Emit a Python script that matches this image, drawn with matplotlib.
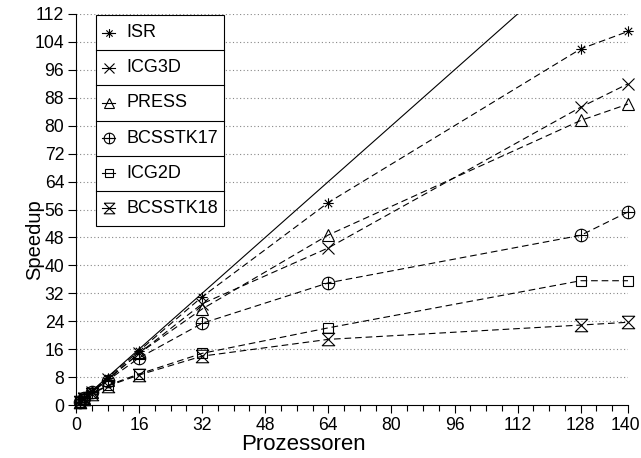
import matplotlib
matplotlib.use("Agg")
import matplotlib.pyplot as plt
import numpy as np
from matplotlib.path import Path
from matplotlib.patches import Rectangle
from matplotlib.lines import Line2D
from matplotlib.transforms import ScaledTranslation

plt.rcParams['font.family'] = ['Liberation Sans', 'DejaVu Sans']

procs = [1, 2, 4, 8, 16, 32, 64, 128, 140]
isr = [1, 2, 3.9, 7.8, 15.5, 31.0, 58.0, 102.0, 107.0]
icg3d = [1, 1.9, 3.8, 7.4, 14.8, 29.0, 45.0, 85.3, 92.0]
press = [1, 1.9, 3.7, 7.2, 14.8, 27.5, 48.7, 81.5, 86.2]
bcsstk17 = [1, 1.9, 3.7, 7.0, 13.5, 23.4, 35.0, 48.6, 55.3]
icg2d = [1, 1.8, 3.3, 5.6, 8.9, 14.8, 22.1, 35.6, 35.6]
bcsstk18 = [1, 1.8, 3.2, 5.4, 8.6, 14.0, 18.8, 22.9, 23.7]
labels = ["ISR", "ICG3D", "PRESS", "BCSSTK17", "ICG2D", "BCSSTK18"]
series = [isr, icg3d, press, bcsstk17, icg2d, bcsstk18]
ideal_x = [0, 140]
xticks = [0, 16, 32, 48, 64, 80, 96, 112, 128, 140]
yticks = list(range(0, 113, 8))

# custom markers
s = np.sqrt(0.5)
star_path = Path([(-1, 0), (1, 0), (0, -1), (0, 1), (-s, -s), (s, s), (-s, s), (s, -s)],
                 [Path.MOVETO, Path.LINETO] * 4)
circ = Path.unit_circle()
plus = Path([(-1, 0), (1, 0), (0, -1), (0, 1)], [Path.MOVETO, Path.LINETO] * 2)
oplus_path = Path.make_compound_path(circ, plus)
hour_path = Path([(-1, 1), (1, 1), (-1, -1), (1, -1), (-1, 1)],
                 [Path.MOVETO, Path.LINETO, Path.LINETO, Path.LINETO, Path.LINETO])
markers = [star_path, 'x', '^', oplus_path, 's', hour_path]
msizes = [7.5, 9, 9, 9, 6.5, 9]

fig = plt.figure(figsize=(6.41, 4.58), dpi=100)
ax = fig.add_axes([76/641, 1-405/458, (628-76)/641, (405-14)/458])
ax.set_xlim(0, 140)
ax.set_ylim(0, 112)

for y in yticks[1:]:
    ax.axhline(y, color='#888888', lw=0.8, ls=(0, (1, 2.2)), zorder=0)

ax.plot(ideal_x, ideal_x, color='black', lw=0.8, solid_capstyle='butt')

for vals, m, ms in zip(series, markers, msizes):
    ax.plot(procs, vals, color='black', lw=0.8, ls=(0, (6, 3.5)),
            marker=m, ms=ms, mfc='none', mec='black', mew=0.8, clip_on=False)

for sp in ['top', 'right']:
    ax.spines[sp].set_visible(False)
ax.spines['left'].set_linewidth(0.8)
ax.spines['bottom'].set_linewidth(0.8)
ax.set_xticks(xticks)
ax.set_yticks(yticks)
ax.set_xticks(list(range(0, 141, 4)), minor=True)
ax.tick_params(axis='both', which='major', direction='out', length=6, width=0.8,
               labelsize=12.7, pad=2.5)
ax.tick_params(axis='x', which='minor', direction='out', length=4, width=0.8)
last = ax.get_xticklabels()[-1]
last.set_transform(last.get_transform() + ScaledTranslation(-3/100, 0, fig.dpi_scale_trans))

ax.set_xlabel("Prozessoren", fontsize=16)
ax.xaxis.label.set_verticalalignment('center')
ax.xaxis.set_label_coords((303 - 76) / 552, -(444 - 405) / 391)
ax.set_ylabel("Speedup", fontsize=14.5)
ax.yaxis.label.set_verticalalignment('center')
ax.yaxis.label.set_horizontalalignment('center')
ax.yaxis.set_label_coords((35 - 76) / 552, (405 - 240) / 391)

# legend as a boxed table
def px(xp, yp):
    return ((xp - 76) / (628 - 76), (405 - yp) / (405 - 14))

x0, y0 = px(96, 226)
x1, y1 = px(224, 15)
ax.add_patch(Rectangle((x0, y0), x1 - x0, y1 - y0, transform=ax.transAxes,
                       fill=True, facecolor='white', edgecolor='black', lw=0.8,
                       zorder=5, clip_on=False))
row_h = (226 - 15) / 6
for i, (lab, m, ms) in enumerate(zip(labels, markers, msizes)):
    top = 15 + i * row_h
    cy = top + row_h / 2
    if i > 0:
        a, b = px(96, top)
        c, _ = px(224, top)
        ax.add_line(Line2D([a, c], [b, b], transform=ax.transAxes, color='black',
                           lw=0.8, zorder=6, clip_on=False))
    la, lb = px(102, cy)
    lc, _ = px(115, cy)
    ax.add_line(Line2D([la, lc], [lb, lb], transform=ax.transAxes, color='black',
                       lw=0.8, zorder=6, clip_on=False))
    ma, mb = px(108.5, cy)
    ax.add_line(Line2D([ma], [mb], transform=ax.transAxes, marker=m, ms=ms * 0.85,
                       mfc='none', mec='black', mew=0.8, ls='none', zorder=6,
                       clip_on=False))
    ta, tb = px(126, cy)
    ax.text(ta, tb, lab, transform=ax.transAxes, fontsize=13, va='center',
            ha='left', zorder=7)

fig.savefig("out.png", dpi=100)
